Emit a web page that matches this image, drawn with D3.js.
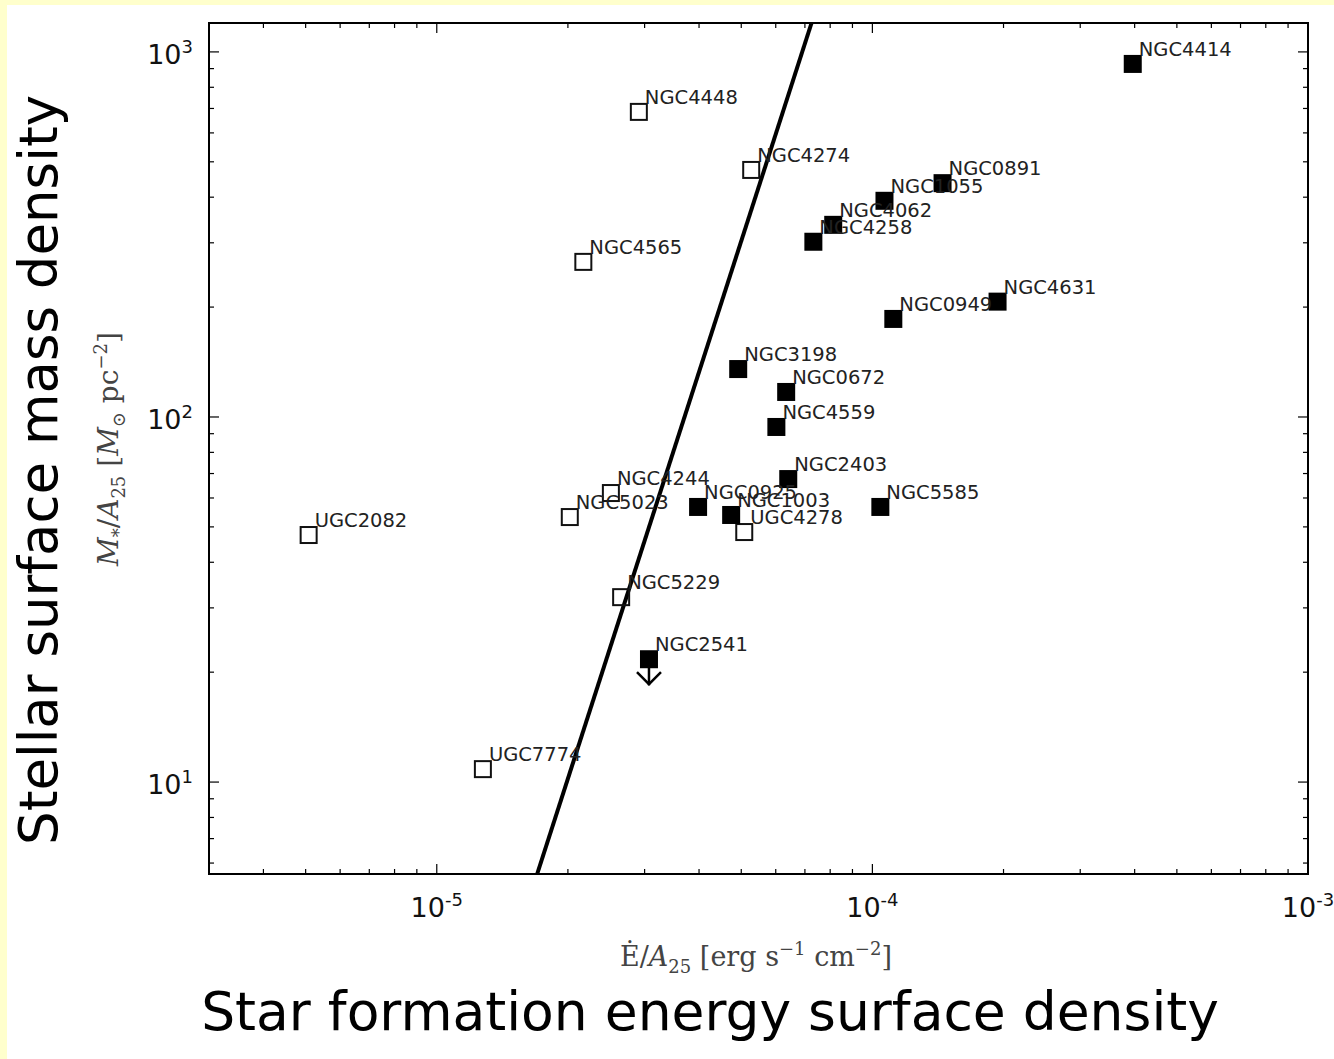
<!DOCTYPE html>
<html>
<head>
<meta charset="utf-8">
<script src="https://cdn.jsdelivr.net/npm/d3@7"></script>
<style>
  html, body { margin: 0; padding: 0; background: #ffffcc; }
  svg { display: block; }
</style>
</head>
<body>
<svg id="chart" width="1334" height="1059"></svg>
<script>
// Galaxy sample: star-formation energy surface density vs stellar surface mass density
const openNames = ["UGC2082", "UGC7774", "NGC4448", "NGC4274", "NGC4565", "NGC4244", "NGC5023", "UGC4278", "NGC5229"];
const openE     = [5.08e-6, 1.276e-5, 2.91e-5, 5.27e-5, 2.17e-5, 2.51e-5, 2.02e-5, 5.08e-5, 2.65e-5];
const openM     = [47.5, 10.85, 685, 475, 266, 61.9, 53.2, 48.4, 32.1];

const filledNames = ["NGC4414", "NGC0891", "NGC1055", "NGC4062", "NGC4258", "NGC4631", "NGC0949", "NGC3198",
                     "NGC0672", "NGC4559", "NGC2403", "NGC0925", "NGC1003", "NGC5585", "NGC2541"];
const filledE     = [3.96e-4, 1.449e-4, 1.066e-4, 8.13e-5, 7.32e-5, 1.938e-4, 1.117e-4, 4.92e-5,
                     6.34e-5, 6.02e-5, 6.41e-5, 3.98e-5, 4.74e-5, 1.043e-4, 3.07e-5];
const filledM     = [927, 437, 391, 336, 302, 207, 185.6, 135.3,
                     117.1, 93.9, 67.6, 56.7, 53.9, 56.7, 21.7];

// Upper limits (drawn with a downward arrow)
const upperLimitNames = ["NGC2541"];

// Reference relation, given by two points in data space
const relationE = [1.7e-5, 7.25e-5];
const relationM = [5.6, 1200];

// Axis ranges and tick labels
const xDomain = [3e-6, 1e-3];
const yDomain = [5.6, 1200];
const xTickValues = [1e-5, 1e-4, 1e-3];
const xTickExps   = ["-5", "-4", "-3"];
const yTickValues = [10, 100, 1000];
const yTickExps   = ["1", "2", "3"];

const svg = d3.select("#chart");
svg.append("rect").attr("x", 0).attr("y", 0).attr("width", 1334).attr("height", 1059).attr("fill", "#ffffcc");
svg.append("rect").attr("x", 7).attr("y", 5).attr("width", 1327).attr("height", 1054).attr("fill", "#ffffff");

const plot = { left: 209, right: 1308, top: 23, bottom: 874 };
const x = d3.scaleLog().domain(xDomain).range([plot.left, plot.right]);
const y = d3.scaleLog().domain(yDomain).range([plot.bottom, plot.top]);

// Minor ticks: 2..9 times each decade inside the domain
function minorTicks(domain) {
  const out = [];
  const lo = Math.floor(Math.log10(domain[0])), hi = Math.ceil(Math.log10(domain[1]));
  for (let e = lo; e <= hi; e++) {
    for (let m = 2; m <= 9; m++) {
      const v = m * Math.pow(10, e);
      if (v > domain[0] * 1.0001 && v < domain[1] * 0.9999) out.push(v);
    }
  }
  return out;
}

const tickG = svg.append("g").attr("stroke", "#000").attr("stroke-width", 1.2);
const majorLen = 10, minorLen = 5;
// x ticks, bottom and top, pointing inward
xTickValues.concat(minorTicks(xDomain)).forEach(v => {
  const len = xTickValues.includes(v) ? majorLen : minorLen;
  const px = x(v);
  tickG.append("line").attr("x1", px).attr("x2", px).attr("y1", plot.bottom).attr("y2", plot.bottom - len);
  tickG.append("line").attr("x1", px).attr("x2", px).attr("y1", plot.top).attr("y2", plot.top + len);
});
// y ticks, left and right, pointing inward
yTickValues.concat(minorTicks(yDomain)).forEach(v => {
  const len = yTickValues.includes(v) ? majorLen : minorLen;
  const py = y(v);
  tickG.append("line").attr("y1", py).attr("y2", py).attr("x1", plot.left).attr("x2", plot.left + len);
  tickG.append("line").attr("y1", py).attr("y2", py).attr("x1", plot.right).attr("x2", plot.right - len);
});

// Tick labels, powers of ten
const tickFont = "'DejaVu Sans', sans-serif";
xTickValues.forEach((v, i) => {
  const t = svg.append("text")
    .attr("x", x(v)).attr("y", 917)
    .attr("text-anchor", "middle")
    .attr("font-family", tickFont).attr("font-size", 27).attr("fill", "#111");
  t.append("tspan").text("10");
  t.append("tspan").attr("dy", -11).attr("font-size", 18).text(xTickExps[i]);
});
yTickValues.forEach((v, i) => {
  const t = svg.append("text")
    .attr("x", 193).attr("y", y(v) + 12)
    .attr("text-anchor", "end")
    .attr("font-family", tickFont).attr("font-size", 27).attr("fill", "#111");
  t.append("tspan").text("10");
  t.append("tspan").attr("dy", -11).attr("font-size", 18).text(yTickExps[i]);
});

// Clip region for the plotted data
svg.append("clipPath").attr("id", "plotClip")
  .append("rect").attr("x", plot.left).attr("y", plot.top)
  .attr("width", plot.right - plot.left).attr("height", plot.bottom - plot.top);

const dataG = svg.append("g").attr("clip-path", "url(#plotClip)");

// Reference relation line
dataG.append("line")
  .attr("x1", x(relationE[0])).attr("y1", y(relationM[0]))
  .attr("x2", x(relationE[1])).attr("y2", y(relationM[1]))
  .attr("stroke", "#000").attr("stroke-width", 4);

const openData = openNames.map((n, i) => ({ name: n, e: openE[i], m: openM[i] }));
const filledData = filledNames.map((n, i) => ({ name: n, e: filledE[i], m: filledM[i] }));

// Open squares
dataG.selectAll("rect.open").data(openData).enter().append("rect")
  .attr("class", "open")
  .attr("x", d => x(d.e) - 8).attr("y", d => y(d.m) - 8)
  .attr("width", 16).attr("height", 16)
  .attr("fill", "none").attr("stroke", "#111").attr("stroke-width", 2);

// Filled squares
dataG.selectAll("rect.filled").data(filledData).enter().append("rect")
  .attr("class", "filled")
  .attr("x", d => x(d.e) - 9).attr("y", d => y(d.m) - 9)
  .attr("width", 18).attr("height", 18)
  .attr("fill", "#000");

// Upper-limit arrows
filledData.filter(d => upperLimitNames.includes(d.name)).forEach(d => {
  const cx = x(d.e), cy = y(d.m);
  const arrow = dataG.append("g").attr("stroke", "#000").attr("stroke-width", 2.5).attr("fill", "none");
  arrow.append("line").attr("x1", cx).attr("x2", cx).attr("y1", cy).attr("y2", cy + 26);
  arrow.append("path").attr("d", `M${cx - 12},${cy + 13} L${cx},${cy + 25} L${cx + 12},${cy + 13}`);
});

// Galaxy names
const labelFont = "'DejaVu Sans', sans-serif";
openData.concat(filledData).forEach(d => {
  svg.append("text")
    .attr("x", x(d.e) + 6).attr("y", y(d.m) - 8)
    .attr("font-family", labelFont).attr("font-size", 19.5).attr("fill", "#222")
    .text(d.name);
});

// Plot frame
svg.append("rect")
  .attr("x", plot.left).attr("y", plot.top)
  .attr("width", plot.right - plot.left).attr("height", plot.bottom - plot.top)
  .attr("fill", "none").attr("stroke", "#000").attr("stroke-width", 2);

// Axis labels (math style)
const mathFont = "'DejaVu Serif', 'Liberation Serif', serif";
const xl = svg.append("text")
  .attr("x", 756).attr("y", 966).attr("text-anchor", "middle")
  .attr("font-family", mathFont).attr("font-size", 27).attr("fill", "#444");
xl.append("tspan").text("Ė/");
xl.append("tspan").attr("font-style", "italic").text("A");
xl.append("tspan").attr("dy", 7).attr("font-size", 18).text("25");
xl.append("tspan").attr("dy", -7).text(" [erg s");
xl.append("tspan").attr("dy", -11).attr("font-size", 18).text("−1");
xl.append("tspan").attr("dy", 11).text("  cm");
xl.append("tspan").attr("dy", -11).attr("font-size", 18).text("−2");
xl.append("tspan").attr("dy", 11).text("]");

const yl = svg.append("text")
  .attr("transform", "translate(118,449) rotate(-90)")
  .attr("text-anchor", "middle")
  .attr("font-family", mathFont).attr("font-size", 28).attr("fill", "#444");
yl.append("tspan").attr("font-style", "italic").text("M");
yl.append("tspan").attr("dy", 7).attr("font-size", 18).text("*");
yl.append("tspan").attr("dy", -7).text("/");
yl.append("tspan").attr("font-style", "italic").text("A");
yl.append("tspan").attr("dy", 7).attr("font-size", 18).text("25");
yl.append("tspan").attr("dy", -7).text(" [");
yl.append("tspan").attr("font-style", "italic").text("M");
yl.append("tspan").attr("dy", 7).attr("font-size", 18).text("⊙");
yl.append("tspan").attr("dy", -7).text(" pc");
yl.append("tspan").attr("dy", -11).attr("font-size", 18).text("−2");
yl.append("tspan").attr("dy", 11).text("]");

// Large descriptive titles
const titleFont = "'DejaVu Sans', Verdana, sans-serif";
const xt = svg.append("text")
  .attr("x", 710).attr("y", 1030).attr("text-anchor", "middle")
  .attr("font-family", titleFont).attr("font-size", 52).attr("fill", "#000")
  .text("Star formation energy surface density");
const xtw = xt.node().getComputedTextLength();
xt.attr("font-size", 52 * 1018 / xtw);

const yt = svg.append("text")
  .attr("transform", "translate(57,470) rotate(-90)").attr("text-anchor", "middle")
  .attr("font-family", titleFont).attr("font-size", 52).attr("fill", "#000")
  .text("Stellar surface mass density");
const ytw = yt.node().getComputedTextLength();
yt.attr("font-size", 52 * 750 / ytw);
</script>
</body>
</html>
